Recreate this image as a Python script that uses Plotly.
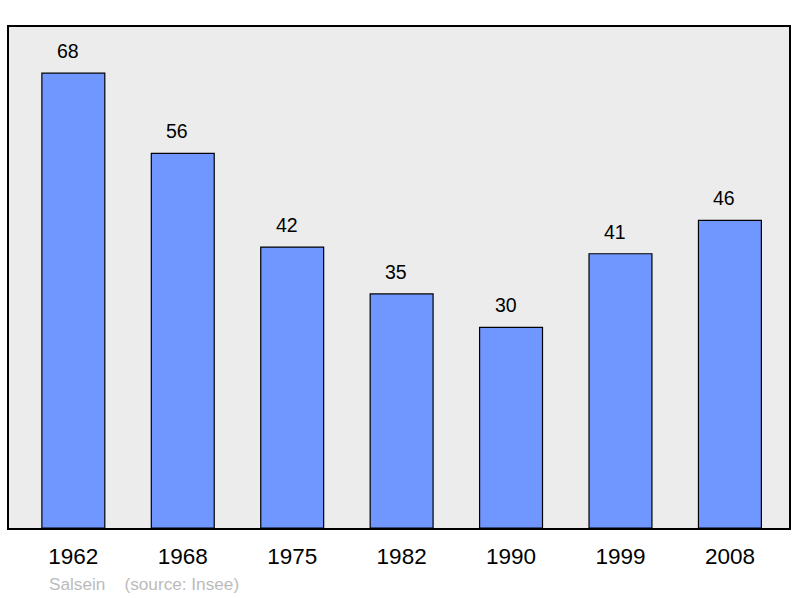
import plotly.graph_objects as go

years = ["1962", "1968", "1975", "1982", "1990", "1999", "2008"]
population = [68, 56, 42, 35, 30, 41, 46]

fig = go.Figure()
fig.add_trace(go.Bar(
    x=list(range(len(years))), y=population,
    marker=dict(color="#7097ff", line=dict(color="#000000", width=1.2)),
    hoverinfo="skip",
))

for i, v in enumerate(population):
    fig.add_annotation(x=i, y=v, text=str(v), showarrow=False,
                       yanchor="bottom", yshift=9, xshift=-5.5,
                       font=dict(family="Liberation Sans, Arial", size=19.5, color="#000"))

fig.add_annotation(xref="paper", yref="paper", x=0.0485, y=-0.112,
                   xanchor="left", yanchor="middle", showarrow=False,
                   text="Salsein&nbsp;&nbsp;&nbsp;&nbsp;(source: Insee)",
                   font=dict(family="Liberation Sans, Arial", size=17.2, color="#bbbbbb"))

fig.update_layout(
    width=800, height=598,
    margin=dict(l=9, r=9, t=27, b=70),
    paper_bgcolor="#ffffff", plot_bgcolor="#ececec",
    bargap=0.425, showlegend=False,
    font=dict(family="Liberation Sans, Arial", color="#000"),
    xaxis=dict(range=[-0.588, 6.54], showgrid=False,
               tickmode="array", tickvals=list(range(len(years))), ticktext=years,
               showline=True, linecolor="#000", linewidth=2, mirror=True,
               ticks="", tickfont=dict(size=22.5), ticklabelstandoff=7,
               zeroline=False, fixedrange=True),
    yaxis=dict(range=[0, 74.9], showgrid=False, showticklabels=False,
               showline=True, linecolor="#000", linewidth=2, mirror=True,
               ticks="", zeroline=False, fixedrange=True),
)

fig.write_html("out.html", config={"displayModeBar": False},
               post_script="document.body.style.margin='0';")
